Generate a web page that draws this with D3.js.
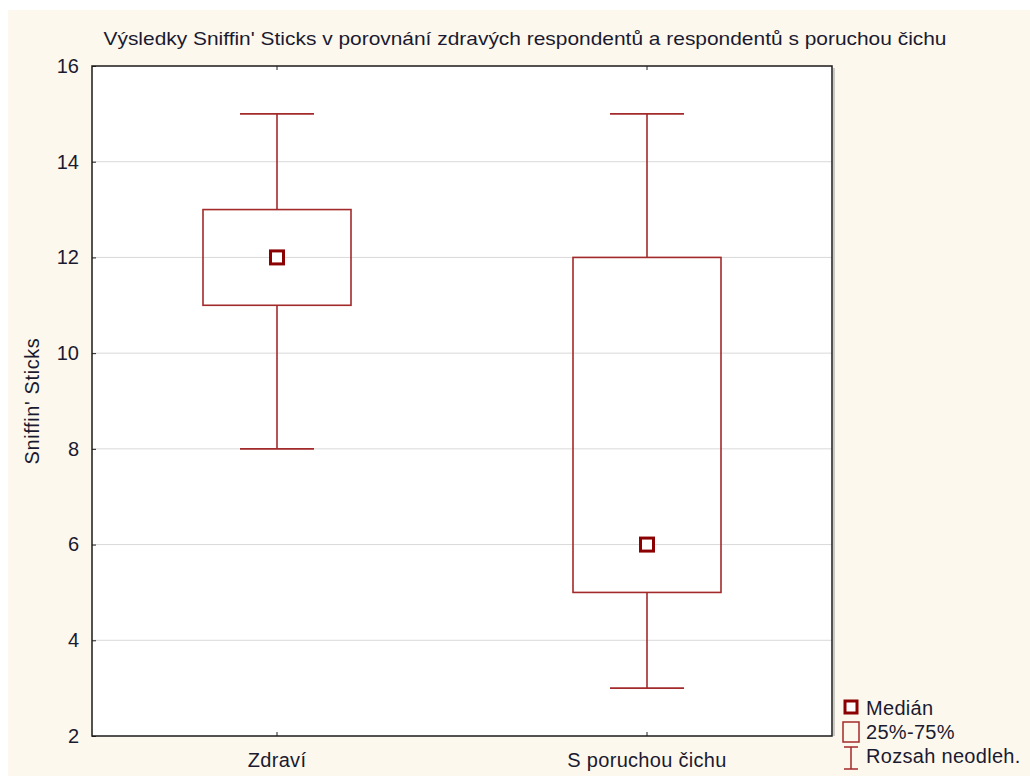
<!DOCTYPE html>
<html>
<head>
<meta charset="utf-8">
<script src="https://cdn.jsdelivr.net/npm/d3@7"></script>
<style>
  html, body { margin: 0; padding: 0; background: #fff; }
  svg { display: block; }
  text { font-family: Arial, "Liberation Sans", sans-serif; fill: #1a1a30; }
</style>
</head>
<body>
<div id="chart"></div>
<script>
const title = 'Výsledky Sniffin\' Sticks v porovnání zdravých respondentů a respondentů s poruchou čichu';
const yLabel = 'Sniffin\' Sticks';
const groups = ['Zdraví', 'S poruchou čichu'];
const medians = [12, 6];
const q1 = [11, 5];
const q3 = [13, 12];
const mins = [8, 3];
const maxs = [15, 15];
const yTicks = [2, 4, 6, 8, 10, 12, 14, 16];
const legendLabels = ['Medián', '25%-75%', 'Rozsah neodleh.'];

const width = 1030, height = 776;
const margin = { top: 66, right: 198, bottom: 40, left: 92 };
const boxRed = '#a32a2a';
const medRed = '#8b0000';

const svg = d3.select('#chart').append('svg')
  .attr('width', width).attr('height', height);

svg.append('rect')
  .attr('x', 8).attr('y', 10)
  .attr('width', width - 8).attr('height', height - 10)
  .attr('fill', '#fdf8ed');

const x = d3.scaleBand()
  .domain(groups)
  .range([margin.left, width - margin.right])
  .padding(0);

const y = d3.scaleLinear()
  .domain([2, 16])
  .range([height - margin.bottom, margin.top]);

const plotW = width - margin.right - margin.left;
const plotH = height - margin.bottom - margin.top;

svg.append('rect')
  .attr('x', margin.left).attr('y', margin.top)
  .attr('width', plotW).attr('height', plotH)
  .attr('fill', '#fff');

// grid
svg.append('g')
  .selectAll('line')
  .data(yTicks.slice(1, -1))
  .join('line')
  .attr('x1', margin.left).attr('x2', width - margin.right)
  .attr('y1', d => y(d)).attr('y2', d => y(d))
  .attr('stroke', '#d9d9d9').attr('stroke-width', 1);

// axes
svg.append('g')
  .attr('transform', `translate(${margin.left},0)`)
  .call(d3.axisLeft(y).tickValues(yTicks).tickSize(-4).tickPadding(13))
  .call(g => g.select('.domain').remove())
  .call(g => g.selectAll('line').attr('stroke', '#222'))
  .call(g => g.selectAll('text').attr('font-size', 20).attr('fill', '#1a1a30'));

svg.append('g')
  .attr('transform', `translate(0,${height - margin.bottom})`)
  .call(d3.axisBottom(x).tickSize(-4))
  .call(g => g.select('.domain').remove())
  .call(g => g.selectAll('line').attr('stroke', '#222'))
  .call(g => g.selectAll('text').attr('y', 31).attr('dy', 0)
    .attr('font-size', 20).attr('letter-spacing', 0.3).attr('fill', '#1a1a30'));

svg.append('g')
  .attr('transform', `translate(0,${margin.top})`)
  .call(d3.axisTop(x).tickSize(-4).tickFormat(''))
  .call(g => g.select('.domain').remove())
  .call(g => g.selectAll('line').attr('stroke', '#222'));

// frame
svg.append('line')
  .attr('x1', width - margin.right + 2).attr('x2', width - margin.right + 2)
  .attr('y1', margin.top + 2).attr('y2', height - margin.bottom)
  .attr('stroke', '#999').attr('stroke-width', 1);
svg.append('rect')
  .attr('x', margin.left).attr('y', margin.top)
  .attr('width', plotW).attr('height', plotH)
  .attr('fill', 'none').attr('stroke', '#1a1a1a').attr('stroke-width', 1.5);

// boxes
const boxW = 148, capW = 74;
const cx = i => x(groups[i]) + x.bandwidth() / 2;
const boxG = svg.append('g');

groups.forEach((g, i) => {
  const c = cx(i);
  const gg = boxG.append('g');
  gg.append('line')
    .attr('x1', c).attr('x2', c).attr('y1', y(maxs[i])).attr('y2', y(q3[i]));
  gg.append('line')
    .attr('x1', c).attr('x2', c).attr('y1', y(q1[i])).attr('y2', y(mins[i]));
  gg.append('line')
    .attr('x1', c - capW / 2).attr('x2', c + capW / 2).attr('y1', y(maxs[i])).attr('y2', y(maxs[i]));
  gg.append('line')
    .attr('x1', c - capW / 2).attr('x2', c + capW / 2).attr('y1', y(mins[i])).attr('y2', y(mins[i]));
  gg.append('rect')
    .attr('x', c - boxW / 2).attr('y', y(q3[i]))
    .attr('width', boxW).attr('height', y(q1[i]) - y(q3[i]))
    .attr('fill', 'none');
  gg.selectAll('*').attr('stroke', boxRed).attr('stroke-width', 1.6);
  gg.append('rect')
    .attr('x', c - 6.5).attr('y', y(medians[i]) - 6.5)
    .attr('width', 13).attr('height', 13)
    .attr('fill', '#fff').attr('stroke', medRed).attr('stroke-width', 3);
});

// title
svg.append('text')
  .attr('x', 525).attr('y', 45)
  .attr('text-anchor', 'middle')
  .attr('font-size', 19)
  .attr('textLength', 843).attr('lengthAdjust', 'spacingAndGlyphs')
  .text(title);

// y label
svg.append('text')
  .attr('transform', `translate(39,${(margin.top + height - margin.bottom) / 2}) rotate(-90)`)
  .attr('text-anchor', 'middle')
  .attr('font-size', 20)
  .attr('letter-spacing', 0.6)
  .text(yLabel);

// legend
const lg = svg.append('g');
const lx = 851;
lg.append('rect')
  .attr('x', lx - 6).attr('y', 701).attr('width', 12).attr('height', 12)
  .attr('fill', '#fff').attr('stroke', medRed).attr('stroke-width', 3);
lg.append('rect')
  .attr('x', lx - 8).attr('y', 722).attr('width', 16).attr('height', 20)
  .attr('fill', 'none').attr('stroke', boxRed).attr('stroke-width', 1.5);
lg.append('path')
  .attr('d', `M${lx - 7},747 H${lx + 7} M${lx},747 V769 M${lx - 7},769 H${lx + 7}`)
  .attr('fill', 'none').attr('stroke', boxRed).attr('stroke-width', 1.5);
lg.selectAll('text.leg')
  .data(legendLabels)
  .join('text')
  .attr('class', 'leg')
  .attr('x', 866)
  .attr('y', (d, i) => 715 + i * 24)
  .attr('font-size', 20)
  .attr('letter-spacing', 0.3)
  .text(d => d);
</script>
</body>
</html>
